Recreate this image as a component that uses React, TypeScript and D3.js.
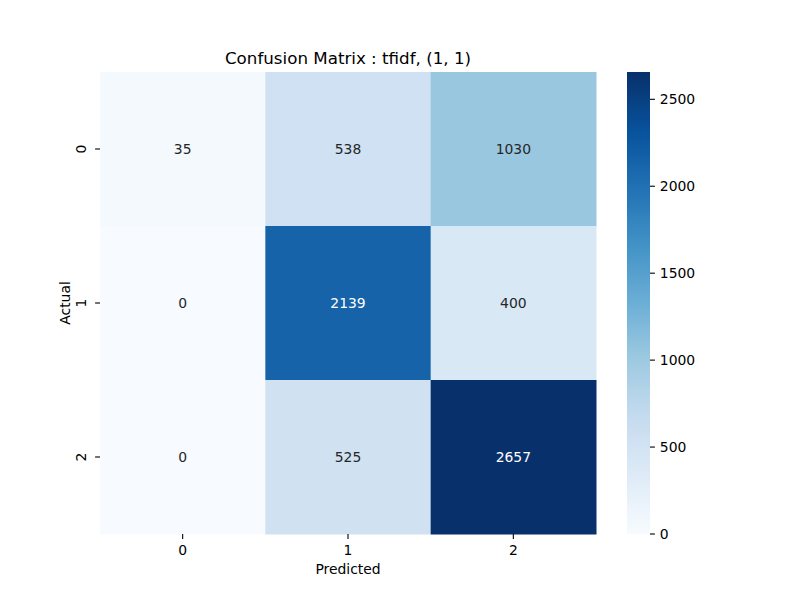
import { useMemo } from "react"
import * as d3 from 'd3'

const actualLabels = ["0", "1", "2"]
const predictedLabels = ["0", "1", "2"]
// rows = actual, columns = predicted
const counts = [
    [35, 538, 1030],
    [0, 2139, 400],
    [0, 525, 2657],
]
const colorbarTicks = [0, 500, 1000, 1500, 2000, 2500]
const title = "Confusion Matrix : tfidf, (1, 1)"

// matplotlib "Blues" is a linear ramp over the 9 brewer colors
const blues = ["#f7fbff", "#deebf7", "#c6dbef", "#9ecae1", "#6baed6", "#4292c6", "#2171b5", "#08519c", "#08306b"]

const font = "DejaVu Sans, sans-serif"

export default function App() {
    const W = 800, H = 600
    const plot = { left: 100, right: 596, top: 72, bottom: 534 }
    const cbar = { left: 627, right: 650 }

    const vmax = d3.max(counts.flat()) || 1
    const vmin = d3.min(counts.flat()) || 0

    const x = d3.scaleBand<string>().domain(predictedLabels).range([plot.left, plot.right])
    const y = d3.scaleBand<string>().domain(actualLabels).range([plot.top, plot.bottom])
    const t = d3.scaleLinear().domain([vmin, vmax]).range([0, 1])
    const ramp = d3.scaleLinear<string>()
        .domain(blues.map((_, i) => i / (blues.length - 1)))
        .range(blues)
        .interpolate(d3.interpolateRgb)
    const color = (v: number) => ramp(t(v))
    const cy = d3.scaleLinear().domain([vmin, vmax]).range([plot.bottom, plot.top])

    const stops = useMemo(() => d3.range(0, 1.0001, 1 / 64), [])

    const textColor = (v: number) => {
        const c = d3.rgb(color(v))
        const lum = 0.2126 * c.r / 255 + 0.7152 * c.g / 255 + 0.0722 * c.b / 255
        return lum > 0.408 ? "#262626" : "#ffffff"
    }

    return <svg width={W} height={H} style={{ position: "absolute", left: 0, top: 0, background: "#fff" }}
        fontFamily={font}>
        <defs>
            <linearGradient id="cbar" x1="0" y1="1" x2="0" y2="0">
                {stops.map(s => <stop key={s} offset={s} stopColor={ramp(s)} />)}
            </linearGradient>
        </defs>

        {counts.map((row, i) => row.map((v, j) => {
            const cx = x(predictedLabels[j])!, ry = y(actualLabels[i])!
            return <g key={`${i}-${j}`}>
                <rect x={cx} y={ry} width={x.bandwidth() + 0.5} height={y.bandwidth() + 0.5} fill={color(v)} />
                <text x={cx + x.bandwidth() / 2} y={ry + y.bandwidth() / 2} dy="0.36em"
                    textAnchor="middle" fontSize={13.9} fill={textColor(v)}>{v}</text>
            </g>
        }))}

        {/* x axis */}
        {predictedLabels.map(l => {
            const px = x(l)! + x.bandwidth() / 2
            return <g key={"x" + l}>
                <line x1={px} x2={px} y1={plot.bottom} y2={plot.bottom + 4.9} stroke="#000" strokeWidth={1.1} />
                <text x={px} y={555} textAnchor="middle" fontSize={13.9} fill="#000">{l}</text>
            </g>
        })}
        <text x={(plot.left + plot.right) / 2} y={574} textAnchor="middle" fontSize={13.9} fill="#000">Predicted</text>

        {/* y axis */}
        {actualLabels.map(l => {
            const py = y(l)! + y.bandwidth() / 2
            return <g key={"y" + l}>
                <line x1={plot.left - 4.9} x2={plot.left} y1={py} y2={py} stroke="#000" strokeWidth={1.1} />
                <text transform={`translate(86,${py}) rotate(-90)`} textAnchor="middle" fontSize={13.9} fill="#000">{l}</text>
            </g>
        })}
        <text transform={`translate(70,${(plot.top + plot.bottom) / 2}) rotate(-90)`} textAnchor="middle"
            fontSize={13.9} fill="#000">Actual</text>

        <text x={(plot.left + plot.right) / 2} y={64} textAnchor="middle" fontSize={16.7} fill="#000">{title}</text>

        {/* colorbar */}
        <rect x={cbar.left} y={plot.top} width={cbar.right - cbar.left} height={plot.bottom - plot.top} fill="url(#cbar)" />
        {colorbarTicks.map(v => <g key={"c" + v}>
            <line x1={cbar.right} x2={cbar.right + 4.9} y1={cy(v)} y2={cy(v)} stroke="#000" strokeWidth={1.1} />
            <text x={cbar.right + 9.8} y={cy(v)} dy="0.36em" fontSize={13.9} fill="#000">{v}</text>
        </g>)}
    </svg>
}
